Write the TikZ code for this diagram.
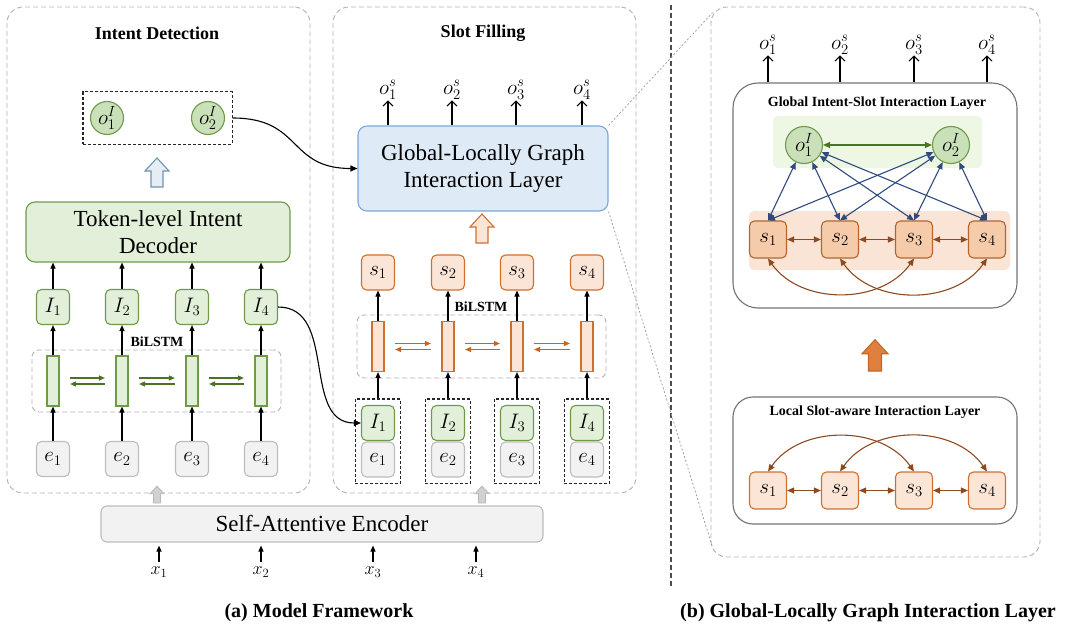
\RequirePackage{fix-cm}
\documentclass[tikz,border=0pt]{standalone}
\usepackage{fontspec}
\setmainfont{Liberation Serif}[BoldFont={Liberation Serif Bold}]
\usetikzlibrary{arrows.meta,positioning,fit,calc}

\definecolor{grnfill}{HTML}{E2EFD9}
\definecolor{grnline}{HTML}{6F9A4B}
\definecolor{grndark}{HTML}{4A7325}
\definecolor{grncirc}{HTML}{C9E0B8}
\definecolor{grnband}{HTML}{EDF7E3}
\definecolor{gryfill}{HTML}{F2F2F2}
\definecolor{gryline}{HTML}{BDBDBD}
\definecolor{blufill}{HTML}{DEEAF6}
\definecolor{bluline}{HTML}{7DA7DB}
\definecolor{hollfill}{HTML}{E4EEF4}
\definecolor{hollline}{HTML}{6F93B3}
\definecolor{navy}{HTML}{2F4B7C}
\definecolor{orgfill}{HTML}{FBE5D6}
\definecolor{orgline}{HTML}{D0702F}
\definecolor{orgarrow}{HTML}{C8621C}
\definecolor{orgbox}{HTML}{F5CBA9}
\definecolor{orgboxline}{HTML}{B5652E}
\definecolor{orgband}{HTML}{F9E4D6}
\definecolor{orgsolid}{HTML}{E0803E}
\definecolor{orgdark}{HTML}{C0672C}
\definecolor{brn}{HTML}{8E4A1E}

\tikzset{
  panel/.style={draw=black!30, dash pattern=on 5pt off 3pt, line width=0.9pt, rounded corners=16pt, inner sep=0pt},
  head/.style={font=\fontsize{18}{20}\selectfont\bfseries},
  smallhead/.style={font=\fontsize{14}{16}\selectfont\bfseries},
  caption/.style={font=\fontsize{20}{22}\selectfont\bfseries},
  bigbox/.style={rectangle, rounded corners=9pt, line width=1.1pt, align=center, inner sep=0pt, font=\fontsize{23}{27}\selectfont},
  tok/.style={rectangle, rounded corners=5pt, minimum width=33pt, minimum height=35pt, inner sep=0pt, line width=1.1pt, font=\fontsize{21}{23}\selectfont},
  itok/.style={tok, fill=grnfill, draw=grnline},
  etok/.style={tok, fill=gryfill, draw=gryline},
  stok/.style={tok, fill=orgfill, draw=orgline},
  gstok/.style={tok, minimum width=37pt, minimum height=37pt, fill=orgbox, draw=orgboxline},
  lstok/.style={tok, minimum width=37pt, minimum height=37pt, fill=orgfill, draw=orgline},
  lcell/.style={rectangle, minimum width=12pt, minimum height=50pt, inner sep=0pt, line width=1.1pt, fill=grnfill, draw=grnline},
  scell/.style={lcell, fill=orgfill, draw=orgline},
  lstmbox/.style={draw=black!30, dash pattern=on 5pt off 3pt, line width=0.9pt, rounded corners=7pt, inner sep=0pt},
  pairbox/.style={draw=black!85, dash pattern=on 3pt off 2pt, line width=1.1pt},
  lcirc/.style={circle, minimum size=33pt, inner sep=0pt, fill=grncirc, draw=grnline, line width=1.1pt, font=\fontsize{21}{23}\selectfont},
  rcirc/.style={lcirc, minimum size=37pt},
  gbox/.style={rectangle, draw=black!55, line width=1.1pt, rounded corners=25pt, inner sep=0pt},
  band/.style={rectangle, rounded corners=5pt, inner sep=0pt},
  olab/.style={font=\fontsize{21}{23}\selectfont, inner sep=0.5pt},
  xlab/.style={font=\fontsize{18}{20}\selectfont, inner sep=1pt},
  up/.style={-{Triangle[length=6pt,width=5pt]}, line width=1.1pt},
  openarr/.style={-{Straight Barb[length=5pt,width=10pt]}, line width=1.1pt},
  link/.style={-{Triangle[length=7pt,width=6pt]}, line width=1.1pt},
  garr/.style={-{Triangle[length=6pt,width=5pt]}, grndark, line width=1.3pt, shorten <=10.5pt, shorten >=10.5pt},
  oarr/.style={garr, orgarrow},
  barr/.style={{Triangle[length=7pt,width=6pt]}-{Triangle[length=7pt,width=6pt]}, navy, line width=1.1pt},
  grarr/.style={barr, grndark},
  brarr/.style={barr, brn},
  zoomline/.style={draw=black!40, dash pattern=on 2pt off 2pt, line width=0.7pt},
  blockup/.pic={\path[pic actions] (-6,0) -- (-6,-16) -- (-12,-16) -- (0,-29) -- (12,-16) -- (6,-16) -- (6,0) -- cycle;}
}

\begin{document}
\begin{tikzpicture}[x=1pt,y=-1pt]
  \useasboundingbox (0,0) rectangle (1080,626);

  % (a) model framework
  \node[panel, minimum width=303pt, minimum height=486pt] (intentpanel) at (158.5,250) {};
  \node[panel, minimum width=303pt, minimum height=486pt] (slotpanel) at (484.5,250) {};
  \node[head] (idtitle) at (157,33) {Intent Detection};
  \node[head] (sftitle) at (483,33) {Slot Filling};

  % intent detection
  \node[lstmbox, minimum width=249pt, minimum height=62pt] (lbox) at (156.5,381) {};
  \node[smallhead] (lbilstm) at (157,342) {BiLSTM};
  \foreach \i/\x in {1/53,2/122,3/192,4/261} {
    \node[etok] (e\i) at (\x,459) {$e_{\i}$};
    \node[lcell] (lc\i) at (\x,381) {};
    \node[itok] (il\i) at (\x,307) {$I_{\i}$};
    \draw[up] (e\i) -- (lc\i);
    \draw[up] (lc\i) -- (il\i);
  }
  \foreach \i/\j in {1/2,2/3,3/4} {
    \draw[garr] ([yshift=3pt]lc\i.east) -- ([yshift=3pt]lc\j.west);
    \draw[garr] ([yshift=-3pt]lc\j.west) -- ([yshift=-3pt]lc\i.east);
  }
  \node[bigbox, fill=grnfill, draw=grnline, minimum width=264pt, minimum height=60pt] (dec) at (158,232) {Token-level Intent\\Decoder};
  \foreach \i in {1,...,4}
    \draw[up] (il\i) -- (il\i |- dec.south);
  \pic[fill=hollfill, draw=hollline, line width=1.1pt] at (157,187) {blockup};
  \node[lcirc] (oi1) at (107,118) {$o^{I}_{1}$};
  \node[lcirc] (oi2) at (208,118) {$o^{I}_{2}$};
  \node[pairbox, fit=(oi1)(oi2), inner xsep=7pt, inner ysep=9pt] (oibox) {};

  % slot filling
  \node[lstmbox, minimum width=249pt, minimum height=63pt] (sbox) at (481.5,346.5) {};
  \node[smallhead] (sbilstm) at (481,307) {BiLSTM};
  \foreach \i/\x in {1/378,2/448,3/517,4/587} {
    \node[itok] (im\i) at (\x,423) {$I_{\i}$};
    \node[etok] (em\i) at (\x,459.5) {$e_{\i}$};
    \node[pairbox, fit=(im\i)(em\i), inner xsep=5.5pt, inner ysep=6pt] (pm\i) {};
    \node[scell] (sc\i) at (\x,346.5) {};
    \node[stok] (sm\i) at (\x,272.5) {$s_{\i}$};
    \draw[up] (pm\i.north) -- (sc\i.south);
    \draw[up] (sc\i) -- (sm\i);
  }
  \foreach \i/\j in {1/2,2/3,3/4} {
    \draw[oarr] ([yshift=3pt]sc\i.east) -- ([yshift=3pt]sc\j.west);
    \draw[oarr] ([yshift=-3pt]sc\j.west) -- ([yshift=-3pt]sc\i.east);
  }
  \pic[fill=orgfill, draw=orgline, line width=1.1pt] at (482,243) {blockup};
  \node[bigbox, fill=blufill, draw=bluline, minimum width=250pt, minimum height=85pt] (gl) at (483,168.5) {Global-Locally Graph\\Interaction Layer};
  \foreach \i/\x in {1/388,2/452,3/516,4/582} {
    \node[olab] (os\i) at (\x,90) {$o^{s}_{\i}$};
    \draw[openarr] (gl.north -| os\i) -- (os\i);
  }
  \draw[link] (oibox.east) .. controls +(70,0) and +(-70,0) .. (gl.west);
  \draw[link] (il4.east) .. controls +(60,0) and +(-60,0) .. (im1.west);

  % encoder
  \pic[fill=black!18, draw=black!28, line width=0.8pt, scale=0.58] at (157,503) {blockup};
  \pic[fill=black!18, draw=black!28, line width=0.8pt, scale=0.58] at (482,503) {blockup};
  \node[bigbox, rounded corners=6pt, fill=gryfill, draw=gryline, minimum width=442pt, minimum height=36pt] (enc) at (322,524) {Self-Attentive Encoder};
  \foreach \i/\x in {1/159,2/261,3/373,4/476} {
    \node[xlab] (x\i) at (\x,572) {$x_{\i}$};
    \draw[up, shorten <=4pt, shorten >=3pt] (x\i) -- (x\i |- enc.south);
  }
  \node[caption] (capa) at (319,613) {(a) Model Framework};

  \draw[black!70, dash pattern=on 5pt off 3pt, line width=1.6pt] (671,5) -- (671,587);

  % (b) graph interaction layer
  \node[panel, minimum width=329pt, minimum height=550pt] (rpanel) at (875.5,282) {};
  \draw[zoomline] (gl.north east) -- ($(rpanel.north west)+(2,6)$);
  \draw[zoomline] (gl.south east) -- ($(rpanel.south west)+(2,-10)$);

  \node[gbox, minimum width=284pt, minimum height=225pt] (glob) at (875,195.5) {};
  \node[smallhead] (globtitle) at (877,103) {Global Intent-Slot Interaction Layer};
  \node[band, fill=grnband, minimum width=209pt, minimum height=52pt] (gband) at (877.5,142) {};
  \node[band, fill=orgband, minimum width=261pt, minimum height=59pt] (sband) at (879.5,240.5) {};
  \node[rcirc] (ro1) at (804,145) {$o^{I}_{1}$};
  \node[rcirc] (ro2) at (951,145) {$o^{I}_{2}$};
  \node[gbox, rounded corners=20pt, minimum width=284pt, minimum height=127pt] (loc) at (875,460.5) {};
  \node[smallhead] (loctitle) at (875,412) {Local Slot-aware Interaction Layer};
  \foreach \i/\x in {1/768,2/840,3/914,4/987} {
    \node[gstok] (gs\i) at (\x,239.5) {$s_{\i}$};
    \node[lstok] (ls\i) at (\x,490.5) {$s_{\i}$};
    \node[olab] (ros\i) at (\x,45) {$o^{s}_{\i}$};
    \draw[openarr] (glob.north -| ros\i) -- (ros\i);
  }
  \foreach \o in {1,2}
    \foreach \i in {1,...,4}
      \draw[barr] (ro\o) -- (gs\i.north);
  \draw[grarr] (ro1) -- (ro2);
  \foreach \i/\j in {1/2,2/3,3/4} {
    \draw[brarr] (gs\i) -- (gs\j);
    \draw[brarr] (ls\i) -- (ls\j);
  }
  \draw[brarr] (gs1.south) to[bend right=55] (gs3.south);
  \draw[brarr] (gs2.south) to[bend right=55] (gs4.south);
  \draw[brarr] (ls1.north) to[bend left=55] (ls3.north);
  \draw[brarr] (ls2.north) to[bend left=55] (ls4.north);
  \pic[fill=orgsolid, draw=orgdark, line width=1.1pt, scale=1.08] at (875,371) {blockup};

  \node[caption] (capb) at (868,613) {(b) Global-Locally Graph Interaction Layer};
\end{tikzpicture}
\end{document}
